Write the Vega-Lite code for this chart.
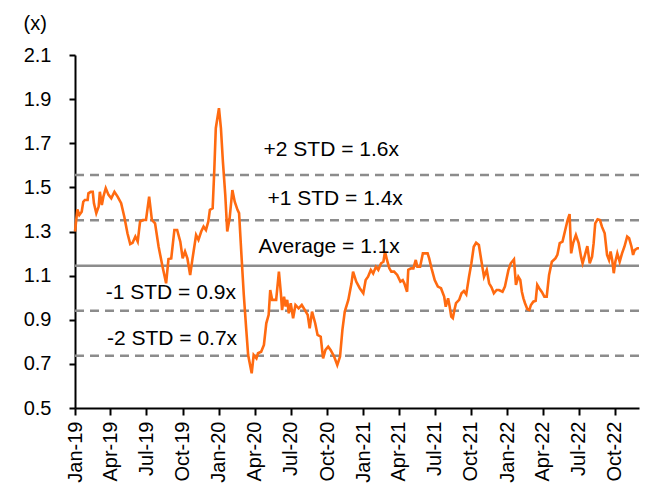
{
  "$schema": "https://vega.github.io/schema/vega-lite/v6.json",
  "width": 564,
  "height": 353,
  "autosize": {"type": "none"},
  "padding": {"left": 75, "top": 55, "right": 14, "bottom": 90},
  "background": "white",
  "config": {
    "view": {"stroke": null},
    "font": "Liberation Sans",
    "axis": {"grid": false, "labelFont": "Liberation Sans", "titleFont": "Liberation Sans", "labelColor": "black", "titleColor": "black", "domainColor": "black", "tickColor": "black", "domainWidth": 2, "tickWidth": 2, "labelFontSize": 20, "titleFontSize": 20, "titleFontWeight": "normal"}
  },
  "datasets": {
    "series": [
      {"d": "2019-01-01", "v": 1.30},
      {"d": "2019-01-07", "v": 1.40},
      {"d": "2019-01-12", "v": 1.375},
      {"d": "2019-01-18", "v": 1.39},
      {"d": "2019-01-22", "v": 1.435},
      {"d": "2019-01-26", "v": 1.443},
      {"d": "2019-02-02", "v": 1.443},
      {"d": "2019-02-04", "v": 1.473},
      {"d": "2019-02-10", "v": 1.48},
      {"d": "2019-02-15", "v": 1.48},
      {"d": "2019-02-18", "v": 1.428},
      {"d": "2019-02-24", "v": 1.383},
      {"d": "2019-03-02", "v": 1.413},
      {"d": "2019-03-05", "v": 1.48},
      {"d": "2019-03-10", "v": 1.42},
      {"d": "2019-03-14", "v": 1.458},
      {"d": "2019-03-20", "v": 1.496},
      {"d": "2019-03-27", "v": 1.466},
      {"d": "2019-04-03", "v": 1.45},
      {"d": "2019-04-11", "v": 1.48},
      {"d": "2019-04-19", "v": 1.458},
      {"d": "2019-04-28", "v": 1.428},
      {"d": "2019-05-06", "v": 1.367},
      {"d": "2019-05-14", "v": 1.292},
      {"d": "2019-05-21", "v": 1.243},
      {"d": "2019-05-27", "v": 1.249},
      {"d": "2019-06-03", "v": 1.277},
      {"d": "2019-06-09", "v": 1.254},
      {"d": "2019-06-15", "v": 1.345},
      {"d": "2019-06-22", "v": 1.352},
      {"d": "2019-06-30", "v": 1.352},
      {"d": "2019-07-08", "v": 1.458},
      {"d": "2019-07-15", "v": 1.352},
      {"d": "2019-07-23", "v": 1.337},
      {"d": "2019-08-01", "v": 1.231},
      {"d": "2019-08-11", "v": 1.14},
      {"d": "2019-08-20", "v": 1.065},
      {"d": "2019-08-26", "v": 1.175},
      {"d": "2019-09-02", "v": 1.178},
      {"d": "2019-09-10", "v": 1.307},
      {"d": "2019-09-17", "v": 1.307},
      {"d": "2019-09-25", "v": 1.254},
      {"d": "2019-10-01", "v": 1.178},
      {"d": "2019-10-07", "v": 1.209},
      {"d": "2019-10-13", "v": 1.178},
      {"d": "2019-10-20", "v": 1.103},
      {"d": "2019-10-26", "v": 1.178},
      {"d": "2019-11-04", "v": 1.284},
      {"d": "2019-11-10", "v": 1.262},
      {"d": "2019-11-17", "v": 1.30},
      {"d": "2019-11-23", "v": 1.322},
      {"d": "2019-11-29", "v": 1.307},
      {"d": "2019-12-05", "v": 1.345},
      {"d": "2019-12-09", "v": 1.398},
      {"d": "2019-12-16", "v": 1.405},
      {"d": "2019-12-20", "v": 1.571},
      {"d": "2019-12-24", "v": 1.768},
      {"d": "2020-01-01", "v": 1.859},
      {"d": "2020-01-06", "v": 1.768},
      {"d": "2020-01-11", "v": 1.617},
      {"d": "2020-01-17", "v": 1.466},
      {"d": "2020-01-22", "v": 1.30},
      {"d": "2020-01-28", "v": 1.36},
      {"d": "2020-02-04", "v": 1.488},
      {"d": "2020-02-10", "v": 1.435},
      {"d": "2020-02-17", "v": 1.398},
      {"d": "2020-02-21", "v": 1.383},
      {"d": "2020-02-27", "v": 1.194},
      {"d": "2020-03-04", "v": 1.012},
      {"d": "2020-03-10", "v": 0.861},
      {"d": "2020-03-15", "v": 0.74},
      {"d": "2020-03-24", "v": 0.657},
      {"d": "2020-03-29", "v": 0.74},
      {"d": "2020-04-05", "v": 0.725},
      {"d": "2020-04-09", "v": 0.748},
      {"d": "2020-04-17", "v": 0.755},
      {"d": "2020-04-24", "v": 0.786},
      {"d": "2020-04-30", "v": 0.884},
      {"d": "2020-05-06", "v": 0.922},
      {"d": "2020-05-10", "v": 1.035},
      {"d": "2020-05-15", "v": 0.99},
      {"d": "2020-05-19", "v": 0.99},
      {"d": "2020-05-25", "v": 0.99},
      {"d": "2020-06-01", "v": 1.118},
      {"d": "2020-06-06", "v": 1.02},
      {"d": "2020-06-09", "v": 0.944},
      {"d": "2020-06-14", "v": 1.005},
      {"d": "2020-06-18", "v": 0.96},
      {"d": "2020-06-22", "v": 0.99},
      {"d": "2020-06-26", "v": 0.929},
      {"d": "2020-07-01", "v": 0.975},
      {"d": "2020-07-07", "v": 0.907},
      {"d": "2020-07-13", "v": 0.967},
      {"d": "2020-07-21", "v": 0.952},
      {"d": "2020-07-29", "v": 0.967},
      {"d": "2020-08-06", "v": 0.944},
      {"d": "2020-08-13", "v": 0.922},
      {"d": "2020-08-18", "v": 0.861},
      {"d": "2020-08-24", "v": 0.937},
      {"d": "2020-09-01", "v": 0.884},
      {"d": "2020-09-07", "v": 0.831},
      {"d": "2020-09-15", "v": 0.823},
      {"d": "2020-09-21", "v": 0.725},
      {"d": "2020-09-27", "v": 0.763},
      {"d": "2020-10-04", "v": 0.778},
      {"d": "2020-10-10", "v": 0.763},
      {"d": "2020-10-19", "v": 0.733},
      {"d": "2020-10-27", "v": 0.695},
      {"d": "2020-11-03", "v": 0.733},
      {"d": "2020-11-09", "v": 0.854},
      {"d": "2020-11-15", "v": 0.937},
      {"d": "2020-11-24", "v": 0.99},
      {"d": "2020-12-02", "v": 1.065},
      {"d": "2020-12-06", "v": 1.118},
      {"d": "2020-12-14", "v": 1.073},
      {"d": "2020-12-23", "v": 1.043},
      {"d": "2021-01-01", "v": 1.02},
      {"d": "2021-01-07", "v": 1.08},
      {"d": "2021-01-13", "v": 1.095},
      {"d": "2021-01-20", "v": 1.126},
      {"d": "2021-01-26", "v": 1.11},
      {"d": "2021-02-02", "v": 1.14},
      {"d": "2021-02-08", "v": 1.126},
      {"d": "2021-02-15", "v": 1.156},
      {"d": "2021-02-21", "v": 1.163},
      {"d": "2021-02-25", "v": 1.209},
      {"d": "2021-03-02", "v": 1.171},
      {"d": "2021-03-08", "v": 1.133},
      {"d": "2021-03-13", "v": 1.118},
      {"d": "2021-03-20", "v": 1.118},
      {"d": "2021-03-28", "v": 1.103},
      {"d": "2021-04-05", "v": 1.073},
      {"d": "2021-04-11", "v": 1.08},
      {"d": "2021-04-15", "v": 1.065},
      {"d": "2021-04-22", "v": 1.027},
      {"d": "2021-04-25", "v": 1.126},
      {"d": "2021-05-02", "v": 1.133},
      {"d": "2021-05-08", "v": 1.133},
      {"d": "2021-05-14", "v": 1.171},
      {"d": "2021-05-18", "v": 1.14},
      {"d": "2021-05-25", "v": 1.14},
      {"d": "2021-06-01", "v": 1.201},
      {"d": "2021-06-07", "v": 1.201},
      {"d": "2021-06-13", "v": 1.201},
      {"d": "2021-06-17", "v": 1.178},
      {"d": "2021-06-23", "v": 1.133},
      {"d": "2021-07-01", "v": 1.08},
      {"d": "2021-07-09", "v": 1.05},
      {"d": "2021-07-17", "v": 1.043},
      {"d": "2021-07-25", "v": 1.005},
      {"d": "2021-07-29", "v": 0.959},
      {"d": "2021-08-04", "v": 0.997},
      {"d": "2021-08-08", "v": 0.959},
      {"d": "2021-08-12", "v": 0.914},
      {"d": "2021-08-16", "v": 0.907},
      {"d": "2021-08-20", "v": 0.944},
      {"d": "2021-08-24", "v": 0.975},
      {"d": "2021-09-01", "v": 0.99},
      {"d": "2021-09-07", "v": 1.02},
      {"d": "2021-09-13", "v": 1.03},
      {"d": "2021-09-19", "v": 1.015},
      {"d": "2021-09-26", "v": 1.095},
      {"d": "2021-10-02", "v": 1.156},
      {"d": "2021-10-08", "v": 1.231},
      {"d": "2021-10-14", "v": 1.249},
      {"d": "2021-10-21", "v": 1.239},
      {"d": "2021-10-27", "v": 1.171},
      {"d": "2021-11-03", "v": 1.095},
      {"d": "2021-11-10", "v": 1.126},
      {"d": "2021-11-16", "v": 1.065},
      {"d": "2021-11-22", "v": 1.047},
      {"d": "2021-11-28", "v": 1.02},
      {"d": "2021-12-05", "v": 1.035},
      {"d": "2021-12-11", "v": 1.035},
      {"d": "2021-12-20", "v": 1.027},
      {"d": "2021-12-26", "v": 1.05},
      {"d": "2022-01-04", "v": 1.126},
      {"d": "2022-01-10", "v": 1.156},
      {"d": "2022-01-18", "v": 1.174},
      {"d": "2022-01-23", "v": 1.058},
      {"d": "2022-01-29", "v": 1.095},
      {"d": "2022-02-03", "v": 1.08},
      {"d": "2022-02-07", "v": 1.027},
      {"d": "2022-02-11", "v": 0.997},
      {"d": "2022-02-15", "v": 0.975},
      {"d": "2022-02-21", "v": 0.948},
      {"d": "2022-02-26", "v": 0.944},
      {"d": "2022-03-02", "v": 0.967},
      {"d": "2022-03-08", "v": 0.982},
      {"d": "2022-03-14", "v": 0.986},
      {"d": "2022-03-18", "v": 1.058},
      {"d": "2022-03-23", "v": 1.043},
      {"d": "2022-03-30", "v": 1.025},
      {"d": "2022-04-05", "v": 1.005},
      {"d": "2022-04-11", "v": 1.005},
      {"d": "2022-04-17", "v": 1.103},
      {"d": "2022-04-24", "v": 1.163},
      {"d": "2022-05-03", "v": 1.178},
      {"d": "2022-05-08", "v": 1.194},
      {"d": "2022-05-14", "v": 1.247},
      {"d": "2022-05-21", "v": 1.254},
      {"d": "2022-05-28", "v": 1.307},
      {"d": "2022-06-03", "v": 1.352},
      {"d": "2022-06-08", "v": 1.379},
      {"d": "2022-06-12", "v": 1.201},
      {"d": "2022-06-17", "v": 1.247},
      {"d": "2022-06-24", "v": 1.284},
      {"d": "2022-07-01", "v": 1.247},
      {"d": "2022-07-07", "v": 1.186},
      {"d": "2022-07-11", "v": 1.156},
      {"d": "2022-07-17", "v": 1.194},
      {"d": "2022-07-23", "v": 1.234},
      {"d": "2022-07-29", "v": 1.156},
      {"d": "2022-08-04", "v": 1.186},
      {"d": "2022-08-08", "v": 1.247},
      {"d": "2022-08-12", "v": 1.337},
      {"d": "2022-08-18", "v": 1.355},
      {"d": "2022-08-24", "v": 1.352},
      {"d": "2022-08-29", "v": 1.322},
      {"d": "2022-09-05", "v": 1.292},
      {"d": "2022-09-11", "v": 1.194},
      {"d": "2022-09-16", "v": 1.171},
      {"d": "2022-09-20", "v": 1.209},
      {"d": "2022-09-24", "v": 1.171},
      {"d": "2022-09-28", "v": 1.111},
      {"d": "2022-10-02", "v": 1.163},
      {"d": "2022-10-07", "v": 1.201},
      {"d": "2022-10-13", "v": 1.163},
      {"d": "2022-10-19", "v": 1.201},
      {"d": "2022-10-25", "v": 1.231},
      {"d": "2022-11-01", "v": 1.277},
      {"d": "2022-11-06", "v": 1.269},
      {"d": "2022-11-12", "v": 1.231},
      {"d": "2022-11-16", "v": 1.194},
      {"d": "2022-11-20", "v": 1.216},
      {"d": "2022-11-27", "v": 1.224},
      {"d": "2022-12-01", "v": 1.224}
    ],
    "bands": [
      {"name": "+2 STD", "v": 1.556},
      {"name": "+1 STD", "v": 1.351},
      {"name": "-1 STD", "v": 0.941},
      {"name": "-2 STD", "v": 0.737}
    ],
    "avg": [
      {"name": "Average", "v": 1.145}
    ],
    "labels": [
      {"d": "2020-04-23", "v": 1.670, "t": "+2 STD = 1.6x"},
      {"d": "2020-05-03", "v": 1.447, "t": "+1 STD = 1.4x"},
      {"d": "2020-04-10", "v": 1.230, "t": "Average = 1.1x"},
      {"d": "2019-03-20", "v": 1.021, "t": "-1 STD = 0.9x"},
      {"d": "2019-03-23", "v": 0.813, "t": "-2 STD = 0.7x"}
    ]
  },
  "layer": [
    {
      "data": {"name": "bands"},
      "mark": {"type": "rule", "color": "#8c8c8c", "strokeWidth": 2.5, "strokeDash": [9, 6]},
      "encoding": {
        "y": {"field": "v", "type": "quantitative", "scale": {"domain": [0.5, 2.1], "nice": false, "zero": false}, "axis": {
            "title": "(x)",
            "titleAngle": 0,
            "titleAlign": "left",
            "titleBaseline": "middle",
            "titleX": -52,
            "titleY": -32,
            "values": [0.5, 0.7, 0.9, 1.1, 1.3, 1.5, 1.7, 1.9, 2.1],
            "format": ".1f",
            "tickSize": 6,
            "labelPadding": 18
          }}
      }
    },
    {
      "data": {"name": "avg"},
      "mark": {"type": "rule", "color": "#8c8c8c", "strokeWidth": 2.5},
      "encoding": {
        "y": {"field": "v", "type": "quantitative"}
      }
    },
    {
      "data": {"name": "series"},
      "mark": {"type": "line", "color": "#ff6a10", "strokeWidth": 2.6},
      "encoding": {
        "x": {
          "field": "d", "type": "temporal",
          "scale": {"type": "utc", "domain": [{"year": 2019, "month": 1, "date": 1, "utc": true}, {"year": 2022, "month": 12, "date": 1, "utc": true}], "nice": false},
          "axis": {
            "title": null,
            "labelExpr": "utcFormat(datum.value, '%b-%y')",
            "values": [
              {"year": 2019, "month": 1, "date": 1, "utc": true},
              {"year": 2019, "month": 4, "date": 1, "utc": true},
              {"year": 2019, "month": 7, "date": 1, "utc": true},
              {"year": 2019, "month": 10, "date": 1, "utc": true},
              {"year": 2020, "month": 1, "date": 1, "utc": true},
              {"year": 2020, "month": 4, "date": 1, "utc": true},
              {"year": 2020, "month": 7, "date": 1, "utc": true},
              {"year": 2020, "month": 10, "date": 1, "utc": true},
              {"year": 2021, "month": 1, "date": 1, "utc": true},
              {"year": 2021, "month": 4, "date": 1, "utc": true},
              {"year": 2021, "month": 7, "date": 1, "utc": true},
              {"year": 2021, "month": 10, "date": 1, "utc": true},
              {"year": 2022, "month": 1, "date": 1, "utc": true},
              {"year": 2022, "month": 4, "date": 1, "utc": true},
              {"year": 2022, "month": 7, "date": 1, "utc": true},
              {"year": 2022, "month": 10, "date": 1, "utc": true}
            ],
            "labelAngle": 270,
            "tickSize": 7,
            "labelPadding": 6,
            "labelOverlap": false,
            "labelBound": false,
            "labelFlush": false
          }
        },
        "y": {
          "field": "v", "type": "quantitative"
        }
      }
    },
    {
      "data": {"name": "labels"},
      "mark": {"type": "text", "align": "left", "baseline": "middle", "fontSize": 21, "font": "Liberation Sans", "color": "black"},
      "encoding": {
        "x": {
          "field": "d", "type": "temporal",
          "scale": {"type": "utc", "domain": [{"year": 2019, "month": 1, "date": 1, "utc": true}, {"year": 2022, "month": 12, "date": 1, "utc": true}], "nice": false},
          "axis": {
            "title": null,
            "labelExpr": "utcFormat(datum.value, '%b-%y')",
            "values": [
              {"year": 2019, "month": 1, "date": 1, "utc": true},
              {"year": 2019, "month": 4, "date": 1, "utc": true},
              {"year": 2019, "month": 7, "date": 1, "utc": true},
              {"year": 2019, "month": 10, "date": 1, "utc": true},
              {"year": 2020, "month": 1, "date": 1, "utc": true},
              {"year": 2020, "month": 4, "date": 1, "utc": true},
              {"year": 2020, "month": 7, "date": 1, "utc": true},
              {"year": 2020, "month": 10, "date": 1, "utc": true},
              {"year": 2021, "month": 1, "date": 1, "utc": true},
              {"year": 2021, "month": 4, "date": 1, "utc": true},
              {"year": 2021, "month": 7, "date": 1, "utc": true},
              {"year": 2021, "month": 10, "date": 1, "utc": true},
              {"year": 2022, "month": 1, "date": 1, "utc": true},
              {"year": 2022, "month": 4, "date": 1, "utc": true},
              {"year": 2022, "month": 7, "date": 1, "utc": true},
              {"year": 2022, "month": 10, "date": 1, "utc": true}
            ],
            "labelAngle": 270,
            "tickSize": 7,
            "labelPadding": 6,
            "labelOverlap": false,
            "labelBound": false,
            "labelFlush": false
          }
        },
        "y": {"field": "v", "type": "quantitative"},
        "text": {"field": "t", "type": "nominal"}
      }
    }
  ],
  "resolve": {"scale": {"x": "shared", "y": "shared"}}
}
